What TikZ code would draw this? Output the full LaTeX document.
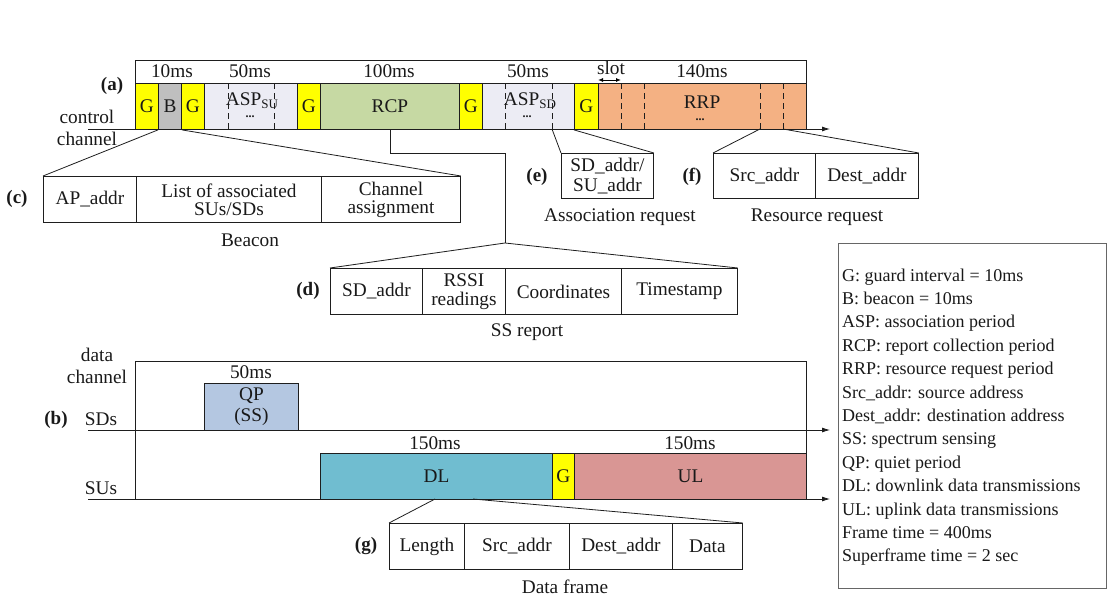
\documentclass[tikz,border=0pt]{standalone}
\usepackage{fontspec}
\setmainfont{Liberation Serif}
\usetikzlibrary{arrows.meta}

\definecolor{guardY}{RGB}{255,255,0}
\definecolor{beaconG}{RGB}{191,191,191}
\definecolor{aspC}{RGB}{236,236,244}
\definecolor{rcpC}{RGB}{198,217,163}
\definecolor{rrpC}{RGB}{244,177,131}
\definecolor{qpC}{RGB}{180,199,225}
\definecolor{dlC}{RGB}{112,189,208}
\definecolor{ulC}{RGB}{217,150,148}
\definecolor{lineC}{RGB}{30,30,30}

\begin{document}
\begin{tikzpicture}[x=1pt,y=-1pt,
  every node/.style={font=\fontsize{19.3}{20}\selectfont, inner sep=0pt, text=black!90},
  period/.style={draw=lineC, line width=0.9pt, anchor=north west, minimum height=46pt, inner sep=0pt},
  field/.style={draw=lineC, line width=0.9pt, anchor=north west, minimum height=46pt, align=center, inner sep=0pt},
  tag/.style={font=\bfseries\fontsize{19}{20}\selectfont},
  link/.style={draw=lineC, line width=0.8pt},
  sep/.style={draw=lineC, line width=0.8pt, dash pattern=on 6pt off 4pt},
  tip/.style={-{Latex[length=8pt,width=5pt]}},
  dots/.style={font=\bfseries\fontsize{12}{12}\selectfont},
  legline/.style={anchor=base west, font=\fontsize{18}{20}\selectfont}
]
\useasboundingbox (0,0) rectangle (1108,597);

% ---------------- (a) control channel ----------------
\node[draw=lineC, line width=0.9pt, anchor=north west, minimum width=671pt, minimum height=69pt] (frameA) at (135,60) {};
\node[period, fill=guardY, minimum width=23pt] (G1) at (135,83) {G};
\node[period, fill=beaconG, minimum width=23pt] (B) at (158,83) {B};
\node[period, fill=guardY, minimum width=23pt] (G2) at (181,83) {G};
\node[period, fill=aspC, minimum width=93pt] (ASPsu) at (204,83) {};
\node[period, fill=guardY, minimum width=23pt] (G3) at (297,83) {G};
\node[period, fill=rcpC, minimum width=139pt] (RCP) at (320,83) {RCP};
\node[period, fill=guardY, minimum width=23pt] (G4) at (459,83) {G};
\node[period, fill=aspC, minimum width=92pt] (ASPsd) at (482,83) {};
\node[period, fill=guardY, minimum width=24pt] (G5) at (574,83) {G};
\node[period, fill=rrpC, minimum width=208pt] (RRP) at (598,83) {};

% slot separators
\draw[sep] (228,83) -- (228,129);
\draw[sep] (274,83) -- (274,129);
\draw[sep] (505,83) -- (505,129);
\draw[sep] (552,83) -- (552,129);
\draw[sep] (621,83) -- (621,129);
\draw[sep] (644,83) -- (644,129);
\draw[sep] (760,83) -- (760,129);
\draw[sep] (783,83) -- (783,129);

\node (ASPsuT) at (252,101) {ASP\raisebox{-3pt}{\fontsize{13}{13}\selectfont SU}};
\node[dots] (ASPsuD) at (250,117) {...};
\node (ASPsdT) at (530,101) {ASP\raisebox{-3pt}{\fontsize{13}{13}\selectfont SD}};
\node[dots] (ASPsdD) at (527,117) {...};
\node (RRPT) at (702,102) {RRP};
\node[dots] (RRPD) at (700,120) {...};

% durations
\node (t10) at (172,71) {10ms};
\node (t50a) at (250,71) {50ms};
\node (t100) at (389,71) {100ms};
\node (t50b) at (528,71) {50ms};
\node (t140) at (702,71) {140ms};
\node (slotT) at (611,68) {slot};
\coordinate (slotL) at (598,80);
\coordinate (slotR) at (621,80);
\draw[line width=0.9pt, {Latex[length=5pt,width=4pt]}-{Latex[length=5pt,width=4pt]}] (slotL) -- (slotR);

\node[tag] (labA) at (112,86) {(a)};
\node (ctl1) at (87,117) {control};
\node (ctl2) at (87,139) {channel};
\coordinate (ctlS) at (88,129);
\coordinate (ctlE) at (830,129);
\draw[link, tip] (ctlS) -- (ctlE);

% ---------------- (c) beacon ----------------
\node[field, minimum width=93pt] (c1) at (43,176) {AP\_addr};
\node[field, minimum width=185pt] (c2) at (136,176) {List of associated\\[-2pt]SUs/SDs};
\node[field, minimum width=139pt] (c3) at (321,176) {Channel\\[-2pt]assignment};
\node (capC) at (250,240) {Beacon};
\node[tag] (labC) at (17,199) {(c)};
\draw[link] (B.south west) -- (c1.north west);
\draw[link] (B.south east) -- (c3.north east);

% ---------------- (d) SS report ----------------
\node[field, minimum width=92pt] (d1) at (330,268) {SD\_addr};
\node[field, minimum width=83pt] (d2) at (422,268) {RSSI\\[-1pt]readings};
\node[field, minimum width=116pt] (d3) at (505,268) {Coordinates};
\node[field, minimum width=116pt] (d4) at (621,268) {Timestamp};
\node (capD) at (527,332) {SS report};
\node[tag] (labD) at (308,291) {(d)};
\coordinate (rcpTurn) at (390,153);
\coordinate (dSplit) at (505,243);
\draw[link] (390,129) -- (rcpTurn) -| (dSplit);
\draw[link] (d1.north west) -- (dSplit) -- (d4.north east);

% ---------------- (e) association request ----------------
\node[field, minimum width=92pt, minimum height=45pt] (e1) at (561,153) {SD\_addr/\\[0pt]SU\_addr};
\node (capE) at (620,217) {Association request};
\node[tag] (labE) at (537,177) {(e)};
\coordinate (sdSep) at (552,129);
\draw[link] (sdSep) -- (e1.north west);
\draw[link] (G5.south west) -- (e1.north east);

% ---------------- (f) resource request ----------------
\node[field, minimum width=102pt, minimum height=45pt] (f1) at (713,153) {Src\_addr};
\node[field, minimum width=103pt, minimum height=45pt] (f2) at (815,153) {Dest\_addr};
\node (capF) at (817,217) {Resource request};
\node[tag] (labF) at (692,177) {(f)};
\coordinate (rrA) at (760,129);
\coordinate (rrB) at (783,129);
\draw[link] (rrA) -- (f1.north west);
\draw[link] (rrB) -- (f2.north east);

% ---------------- (b) data channel ----------------
\node[draw=lineC, line width=0.9pt, anchor=north west, minimum width=671pt, minimum height=138pt] (frameB) at (135,361) {};
\node[period, fill=qpC, minimum width=94pt, minimum height=47pt, align=center] (QP) at (204,383) {QP\\[1pt](SS)};
\node (t50c) at (251,372) {50ms};
\node[period, fill=dlC, minimum width=232pt] (DL) at (320,453) {DL};
\node[period, fill=guardY, minimum width=22pt] (G6) at (552,453) {G};
\node[period, fill=ulC, minimum width=232pt] (UL) at (574,453) {UL};
\node (t150a) at (435,443) {150ms};
\node (t150b) at (690,443) {150ms};

\coordinate (sdS) at (88,430);
\coordinate (sdE) at (830,430);
\coordinate (suS) at (88,499);
\coordinate (suE) at (830,499);
\draw[link, tip] (sdS) -- (sdE);
\draw[link, tip] (suS) -- (suE);

\node (dc1) at (97,355) {data};
\node (dc2) at (97,377) {channel};
\node (sds) at (101,419) {SDs};
\node (sus) at (101,488) {SUs};
\node[tag] (labB) at (56,420) {(b)};

% ---------------- (g) data frame ----------------
\node[field, minimum width=75pt] (g1) at (389,523) {Length};
\node[field, minimum width=105pt] (g2) at (464,523) {Src\_addr};
\node[field, minimum width=103pt] (g3) at (569,523) {Dest\_addr};
\node[field, minimum width=70pt] (g4) at (672,523) {Data};
\node (capG) at (565,587) {Data frame};
\node[tag] (labG) at (366,546) {(g)};
\coordinate (dlA) at (435,499);
\coordinate (dlB) at (473,499);
\draw[link] (dlA) -- (g1.north west);
\draw[link] (dlB) -- (g4.north east);

% ---------------- legend ----------------
\node[draw=black!60, line width=0.9pt, anchor=north west, minimum width=268pt, minimum height=345pt] (legend) at (838,243) {};
\foreach \entry [count=\i from 0] in {
  G: guard interval = 10ms,
  B: beacon = 10ms,
  ASP: association period,
  RCP: report collection period,
  RRP: resource request period,
  Src\_addr: source address,
  Dest\_addr: destination address,
  SS: spectrum sensing,
  QP: quiet period,
  DL: downlink data transmissions,
  UL: uplink data transmissions,
  Frame time = 400ms,
  Superframe time = 2 sec}
  \node[legline] (leg\i) at (842,{281+23.4*\i}) {\entry};
\end{tikzpicture}
\end{document}
